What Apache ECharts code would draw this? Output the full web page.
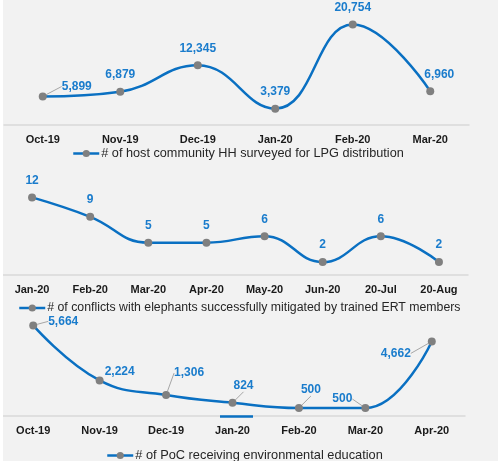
<!DOCTYPE html>
<html>
<head>
<meta charset="utf-8">
<script src="https://cdn.jsdelivr.net/npm/echarts@6/dist/echarts.min.js"></script>
<style>
  html, body { margin: 0; padding: 0; background: #fff; }
  #chart { width: 498px; height: 461px; }
</style>
</head>
<body>
<div id="chart"></div>
<script>
const hhMonths = ['Oct-19', 'Nov-19', 'Dec-19', 'Jan-20', 'Feb-20', 'Mar-20']
const hhSurveyed = [5899, 6879, 12345, 3379, 20754, 6960]

const ertMonths = ['Jan-20', 'Feb-20', 'Mar-20', 'Apr-20', 'May-20', 'Jun-20', '20-Jul', '20-Aug']
const conflictsMitigated = [12, 9, 5, 5, 6, 2, 6, 2]

const pocMonths = ['Oct-19', 'Nov-19', 'Dec-19', 'Jan-20', 'Feb-20', 'Mar-20', 'Apr-20']
const pocEducated = [5664, 2224, 1306, 824, 500, 500, 4662]

const seriesNames = [
  '# of host community HH surveyed for LPG distribution',
  '# of conflicts with elephants successfully mitigated by trained ERT members',
  '# of PoC receiving environmental education',
]

// label nudges (px) from the default "top" spot, per series / point
const labelShift = [
  [[34, 7], [0, 0], [0, 0], [0, 0], [0, 0], [9, 0]],
  [[0, 0], [0, 0], [0, 0], [0, 0], [0, 0], [0, 0], [0, 0], [0, 0]],
  [[30, 13], [20, 8], [23, -5], [11, 0], [12, -1], [-23, 8], [-36, 29]],
]
const leaderOn = [
  [true, false, false, false, false, false],
  [false, false, false, false, false, false, false, false],
  [true, false, true, true, true, true, true],
]

const FONT = "'Liberation Sans', Arial, sans-serif"
const LINE = '#0a70c2'
const LABEL = '#1a7ccc'
const DOT = '#808080'

const chart = echarts.init(document.getElementById('chart'))

function fmt(v) {
  return v.toLocaleString('en-US')
}

function axisX(idx, cats) {
  return {
    type: 'category',
    gridIndex: idx,
    data: cats,
    axisLine: { lineStyle: { color: '#d9d9d9', width: 1.5 } },
    axisTick: { show: false },
    axisLabel: { color: '#1a1a1a', fontWeight: 'bold', fontSize: 11, fontFamily: FONT, margin: 9 },
  }
}

function axisY(idx, max) {
  return { type: 'value', gridIndex: idx, min: 0, max: max, show: false, splitLine: { show: false } }
}

function lineSeries(idx, values) {
  return {
    name: seriesNames[idx],
    type: 'line',
    xAxisIndex: idx,
    yAxisIndex: idx,
    smooth: 0.45,
    symbol: 'circle',
    symbolSize: 8,
    lineStyle: { color: LINE, width: 2.5 },
    itemStyle: { color: DOT },
    label: {
      show: true,
      position: 'top',
      distance: 7,
      color: LABEL,
      fontWeight: 'bold',
      fontSize: 12,
      fontFamily: FONT,
      formatter: (p) => fmt(p.value),
    },
    labelLayout: (p) => {
      const s = labelShift[idx][p.dataIndex]
      return { dx: s[0], dy: s[1] }
    },
    data: values.map((v, i) => ({
      value: v,
      labelLine: { show: leaderOn[idx][i], lineStyle: { color: '#a6a6a6', width: 1 } },
    })),
  }
}

function legendAt(idx, left, top, size) {
  return {
    data: [seriesNames[idx]],
    left: left,
    top: top,
    itemWidth: 26,
    itemHeight: 9,
    itemGap: 4,
    padding: 0,
    selectedMode: false,
    lineStyle: { width: 2.5, color: LINE },
    textStyle: { color: '#262626', fontSize: size, fontFamily: FONT, padding: [0, 0, 0, -3] },
  }
}

chart.setOption({
  backgroundColor: '#f2f2f2',
  animation: false,
  grid: [
    { left: 4, width: 465, top: 4, height: 121 },
    { left: 3, width: 465, top: 178, height: 97 },
    { left: 0, width: 465, top: 320, height: 96 },
  ],
  xAxis: [axisX(0, hhMonths), axisX(1, ertMonths), axisX(2, pocMonths)],
  yAxis: [axisY(0, 25000), axisY(1, 15), axisY(2, 6000)],
  legend: [legendAt(0, 72, 147, 12.7), legendAt(1, 18, 302, 12.3), legendAt(2, 106, 449, 12.8)],
  series: [
    lineSeries(0, hhSurveyed),
    lineSeries(1, conflictsMitigated),
    lineSeries(2, pocEducated),
  ],
  graphic: [
    { type: 'rect', left: 0, top: 0, shape: { width: 3, height: 461 }, style: { fill: '#ffffff' }, z: 100 },
    { type: 'line', shape: { x1: 220, y1: 416.5, x2: 253, y2: 416.5 }, style: { stroke: LINE, lineWidth: 2.5 }, z: 5 },
  ],
})
</script>
</body>
</html>
